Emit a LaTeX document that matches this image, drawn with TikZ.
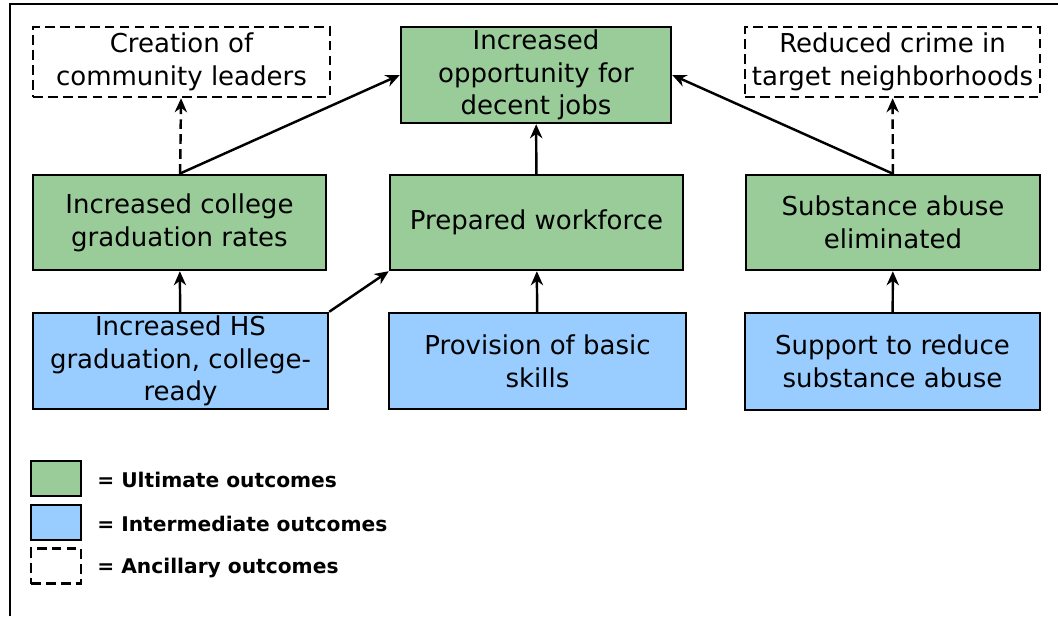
\documentclass[tikz,border=0pt]{standalone}
\usepackage{fontspec}
\setmainfont{DejaVu Sans}
\usepackage{tikz}
\usetikzlibrary{arrows.meta}
\definecolor{ultgreen}{RGB}{153,204,153}
\definecolor{midblue}{RGB}{153,204,255}
\tikzset{
 outcome/.style={draw,line width=1.4pt,align=center,inner xsep=2pt,inner ysep=0pt,
   font=\fontsize{14.8}{18.6}\selectfont},
 ultimate/.style={outcome,fill=ultgreen},
 middle/.style={outcome,fill=midblue},
 ancillary/.style={outcome,dash pattern=on 5.5pt off 3pt},
 link/.style={line width=1.4pt,-{Stealth[length=8pt,width=7pt]}}
}
\begin{document}
\begin{tikzpicture}
\useasboundingbox (0,0) rectangle (21.16,12.32);
\draw[line width=1.2pt](0.2,0)--(0.2,12.24)--(21.16,12.24);
% top row
\node[ancillary,minimum width=5.94cm,minimum height=1.40cm](lead) at (3.63,11.08){Creation of\\community leaders};
\node[ultimate,minimum width=5.40cm,minimum height=1.92cm](jobs) at (10.72,10.82){Increased\\opportunity for\\decent jobs};
\node[ancillary,minimum width=5.90cm,minimum height=1.40cm](crime) at (17.85,11.08){Reduced crime in\\target neighborhoods};
% middle row
\node[ultimate,minimum width=5.86cm,minimum height=1.90cm](college) at (3.59,7.87){Increased college\\graduation rates};
\node[ultimate,minimum width=5.86cm,minimum height=1.90cm](workforce) at (10.73,7.87){Prepared workforce};
\node[ultimate,minimum width=5.88cm,minimum height=1.90cm](substance) at (17.86,7.87){Substance abuse\\eliminated};
% bottom row
\node[middle,minimum width=5.90cm,minimum height=1.92cm](hs) at (3.61,5.10){Increased HS\\graduation, college-\\ready};
\node[middle,minimum width=5.94cm,minimum height=1.92cm](skills) at (10.75,5.10){Provision of basic\\skills};
\node[middle,minimum width=5.90cm,minimum height=1.94cm](support) at (17.85,5.09){Support to reduce\\substance abuse};
% links
\draw[link](hs)--(college);
\draw[link](hs.north east)--(workforce.south west);
\draw[link](skills)--(workforce);
\draw[link](support)--(substance);
\draw[link](college.north)--(jobs.west);
\draw[link](workforce)--(jobs);
\draw[link](substance.north)--(jobs.east);
\draw[link,dash pattern=on 5.5pt off 3pt](college)--(lead);
\draw[link,dash pattern=on 5.5pt off 3pt](substance)--(crime);
% legend
\foreach \y/\kind/\txt/\nm in {2.75/ultimate/Ultimate/keyult,1.87/middle/Intermediate/keymid,1.00/ancillary/Ancillary/keyanc}{
\node[\kind,minimum width=1.0cm,minimum height=0.70cm](\nm) at (1.12,\y){};
\node[right,font=\fontsize{11.5}{14}\selectfont\bfseries,inner sep=0pt](\nm txt) at (1.94,\y-0.03){= \txt\ outcomes};}
\end{tikzpicture}
\end{document}
